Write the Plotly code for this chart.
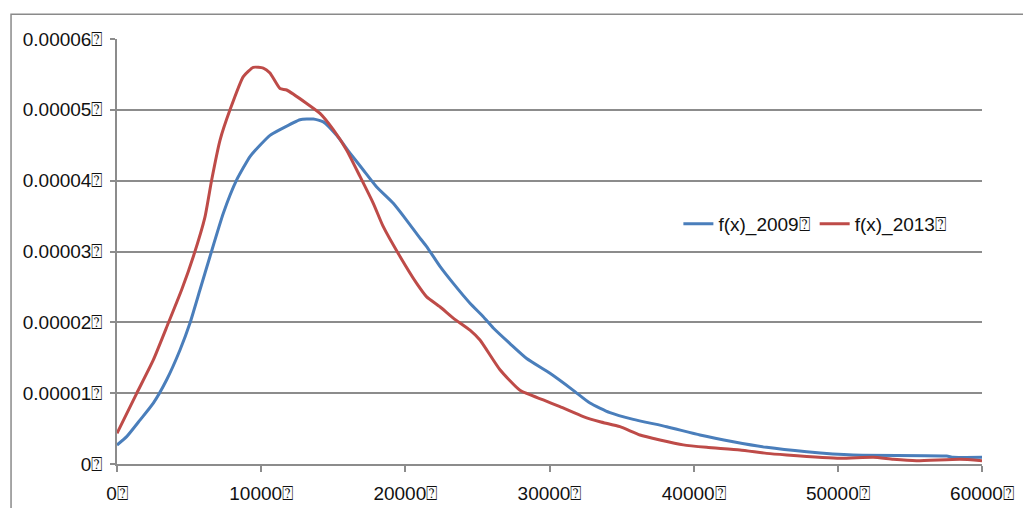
import plotly.graph_objects as go

# Density estimates f(x) for the two survey years
x_2009 = [0, 670, 1595, 2520, 3445, 4370, 5063, 5757, 6450, 7375, 8300, 9225, 9918,
          10612, 11306, 12693, 13618, 14311, 15237, 16161, 17084, 18013, 19164, 20093,
          21016, 21480, 22403, 23325, 24485, 25407, 26101, 27259, 28417, 30034, 31650,
          32806, 34194, 35812, 38128, 40437, 42746, 45061, 47839, 51070, 57546, 58000, 60000]
y_2009 = [2.68e-6, 3.86e-6, 6.2e-6, 8.6e-6, 11.9e-6, 16.1e-6, 19.9e-6, 24.6e-6, 29.3e-6,
          35.4e-6, 40.1e-6, 43.4e-6, 45.0e-6, 46.4e-6, 47.2e-6, 48.6e-6, 48.7e-6, 48.3e-6,
          46.4e-6, 43.9e-6, 41.5e-6, 39.1e-6, 36.8e-6, 34.4e-6, 31.9e-6, 30.7e-6, 27.9e-6,
          25.5e-6, 22.7e-6, 20.8e-6, 19.2e-6, 17.0e-6, 14.9e-6, 12.8e-6, 10.4e-6, 8.6e-6,
          7.25e-6, 6.3e-6, 5.27e-6, 4.1e-6, 3.15e-6, 2.35e-6, 1.74e-6, 1.27e-6, 1.13e-6,
          0.94e-6, 0.94e-6]

x_2013 = [0, 1366, 2520, 3560, 4485, 5295, 6104, 6566, 7144, 7838, 8762, 9456, 10150,
          10612, 11306, 11768, 13158, 14080, 15003, 15932, 16855, 17777, 18471, 19630,
          20787, 21480, 22403, 23325, 24485, 25178, 26565, 27952, 29569, 30726, 32343,
          33500, 34887, 36274, 37661, 39279, 40901, 43212, 45061, 46449, 50148, 52454,
          53845, 55467, 58470, 60000]
y_2013 = [4.33e-6, 9.98e-6, 14.7e-6, 19.9e-6, 24.6e-6, 29.3e-6, 34.9e-6, 40.1e-6, 45.7e-6,
          50.0e-6, 54.7e-6, 56.0e-6, 55.9e-6, 55.2e-6, 53.0e-6, 52.8e-6, 50.9e-6, 49.5e-6,
          47.2e-6, 44.3e-6, 40.6e-6, 36.8e-6, 33.5e-6, 29.3e-6, 25.5e-6, 23.6e-6, 22.2e-6,
          20.6e-6, 18.9e-6, 17.5e-6, 13.3e-6, 10.4e-6, 9.04e-6, 8.1e-6, 6.7e-6, 5.97e-6,
          5.27e-6, 4.1e-6, 3.4e-6, 2.7e-6, 2.35e-6, 1.98e-6, 1.5e-6, 1.27e-6, 0.8e-6,
          0.94e-6, 0.66e-6, 0.47e-6, 0.66e-6, 0.47e-6]

series_names = ["f(x)_2009⍰", "f(x)_2013⍰"]

x_tickvals = [0, 10000, 20000, 30000, 40000, 50000, 60000]
x_ticktext = ["0⍰", "10000⍰", "20000⍰", "30000⍰", "40000⍰", "50000⍰", "60000⍰"]
y_tickvals = [0, 1e-5, 2e-5, 3e-5, 4e-5, 5e-5, 6e-5]
y_ticktext = ["0⍰", "0.00001⍰", "0.00002⍰", "0.00003⍰", "0.00004⍰", "0.00005⍰", "0.00006⍰"]

BLUE = "#4A7EBB"
RED = "#BE4B48"
GRID = "#8C8C8C"
FONT = "Liberation Sans"
FSIZE = 19

fig = go.Figure()
fig.add_trace(go.Scatter(x=x_2009, y=y_2009, mode="lines", name=series_names[0],
                         line=dict(color=BLUE, width=3, shape="spline", smoothing=0.5)))
fig.add_trace(go.Scatter(x=x_2013, y=y_2013, mode="lines", name=series_names[1],
                         line=dict(color=RED, width=3, shape="spline", smoothing=0.5)))

# Outer chart frame (left and top edges visible, the rest runs off the page)
fig.add_shape(type="rect", xref="paper", yref="paper",
              x0=-0.1225, x1=1.2, y0=-0.3, y1=1.0581,
              line=dict(color="#8A8A8A", width=1.5), layer="below")

fig.update_layout(
    width=1023, height=508,
    margin=dict(l=117, r=41, t=39, b=44),
    paper_bgcolor="white", plot_bgcolor="white",
    font=dict(family=FONT, size=FSIZE, color="#111111"),
    showlegend=True,
    legend=dict(orientation="h", x=0.649, y=0.565, xanchor="left", yanchor="middle",
                bgcolor="rgba(0,0,0,0)", font=dict(size=FSIZE), itemwidth=30,
                tracegroupgap=0),
    xaxis=dict(range=[0, 60000], tickmode="array", tickvals=x_tickvals,
               ticktext=x_ticktext, showgrid=False, zeroline=False, automargin=False,
               showline=True, linecolor=GRID, linewidth=1.5,
               ticks="outside", ticklen=6, tickcolor=GRID, tickwidth=1.5,
               ticklabelstandoff=5, tickfont=dict(size=FSIZE)),
    yaxis=dict(range=[0, 6e-5], tickmode="array", tickvals=y_tickvals,
               ticktext=y_ticktext, showgrid=True, gridcolor=GRID, gridwidth=1.5,
               zeroline=False, showline=True, linecolor=GRID, linewidth=1.5, automargin=False,
               ticks="outside", ticklen=5, tickcolor=GRID, tickwidth=1.5,
               ticklabelstandoff=4, tickfont=dict(size=FSIZE)),
)

fig.write_html("out.html")
